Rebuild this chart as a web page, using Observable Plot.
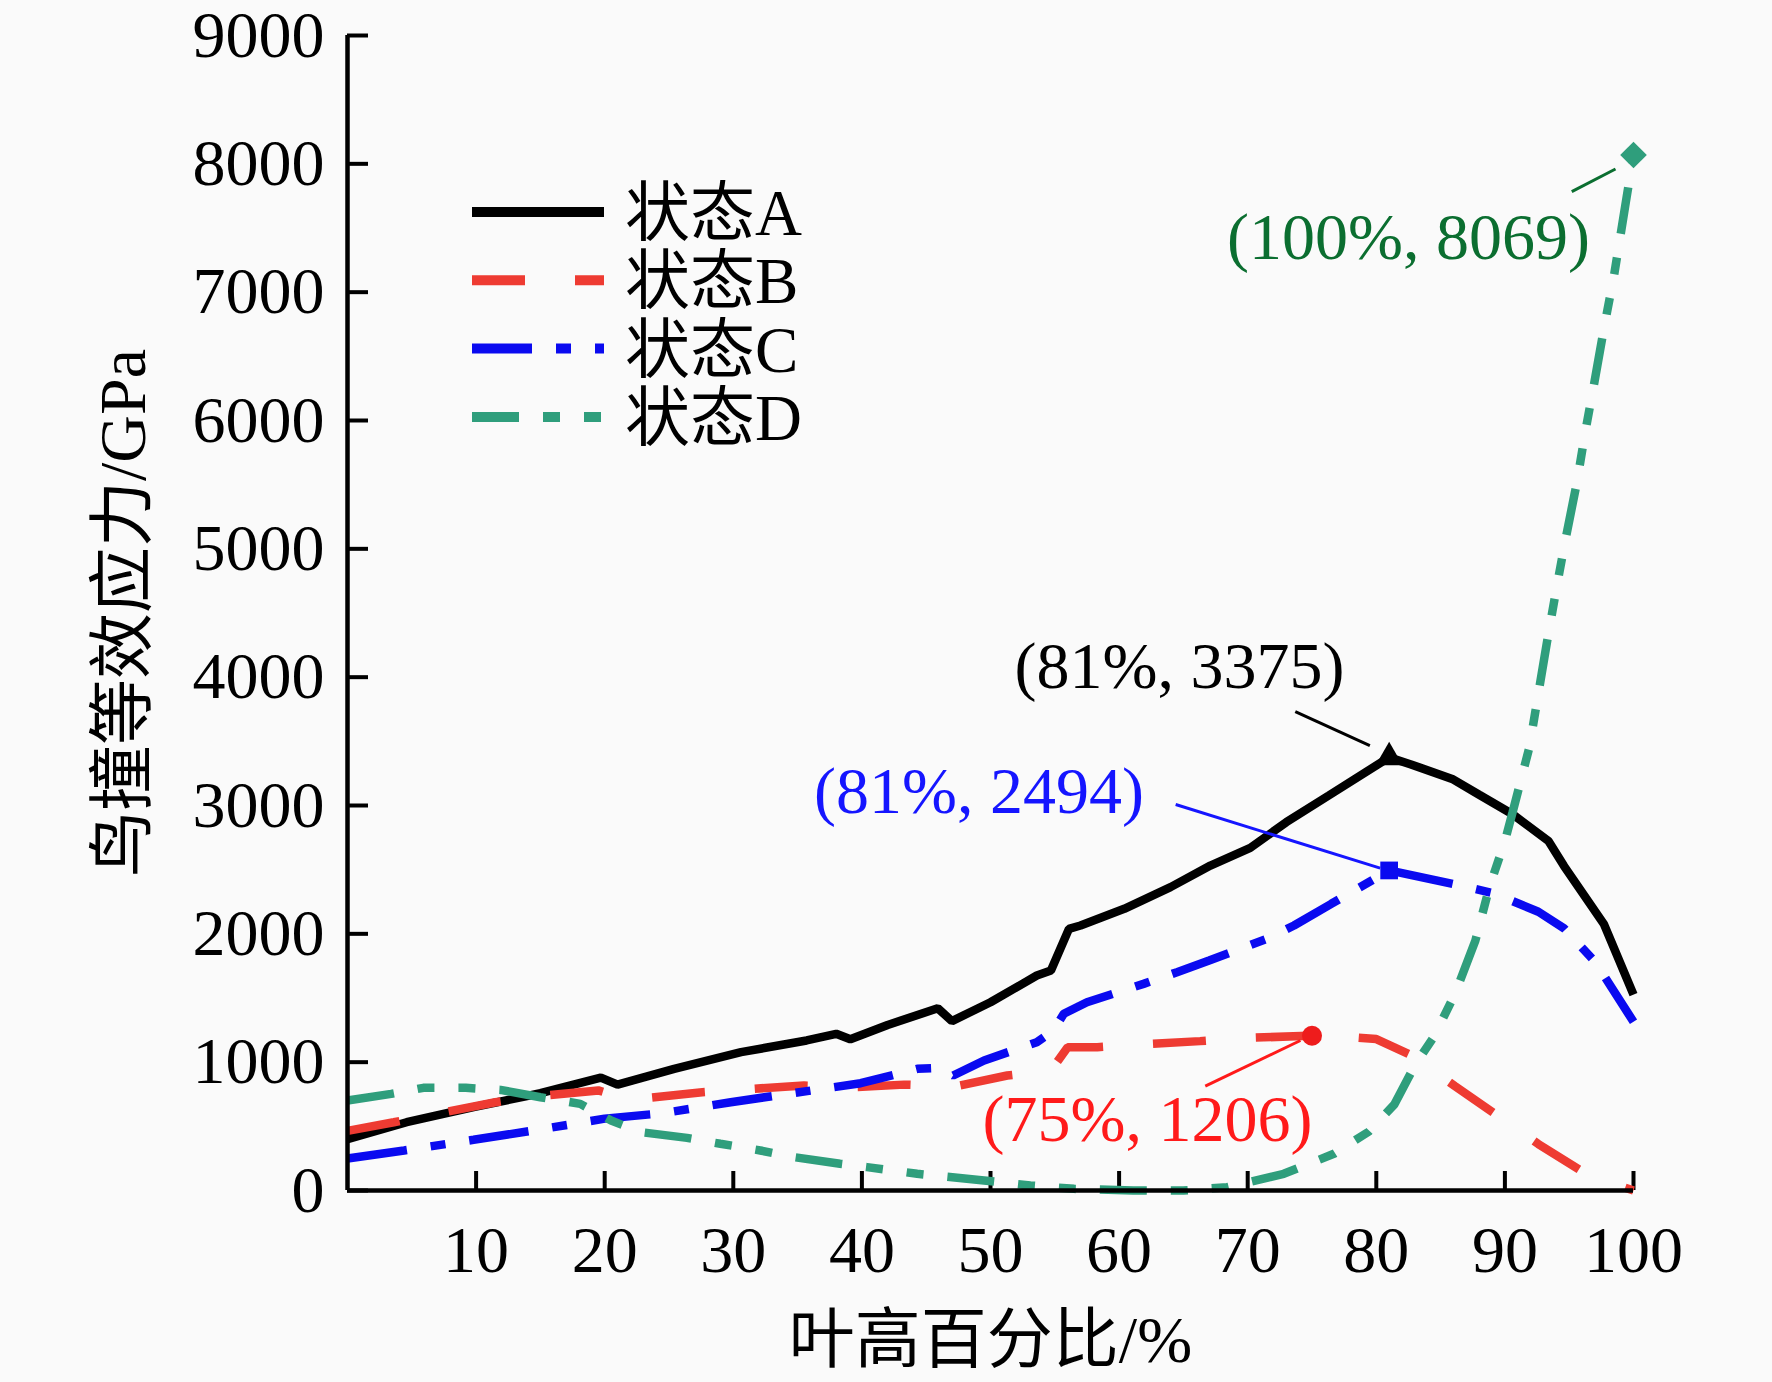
<!DOCTYPE html>
<html>
<head>
<meta charset="utf-8">
<script src="https://cdn.jsdelivr.net/npm/d3@7"></script>
<script src="https://cdn.jsdelivr.net/npm/@observablehq/plot@0.6"></script>
<style>
html, body { margin: 0; padding: 0; background: #fafafa; }
#wrap { position: relative; width: 1772px; height: 1382px; }
#wrap svg { position: absolute; left: 0; top: 0; }
</style>
</head>
<body>
<div id="wrap"></div>
<script>
// ---------- data ----------
const seriesNames = ["状态A", "状态B", "状态C", "状态D"];

const aX = [0, 4.6, 9.8, 15, 19.7, 21, 25.4, 30.6, 35.7, 38, 39.1, 42, 45.9, 47, 50, 53.6, 54.7, 56.1, 57, 60.4, 64, 67.1, 70.2, 73, 76.3, 81, 82.7, 85.9, 88, 90.6, 93.4, 94.6, 97.7, 100];
const aY = [400, 532, 649, 758, 880, 825, 948, 1078, 1169, 1221, 1178, 1290, 1420, 1320, 1467, 1675, 1714, 2039, 2065, 2195, 2364, 2532, 2670, 2870, 3078, 3375, 3320, 3207, 3084, 2932, 2722, 2528, 2075, 1526];

const bX = [0, 3.6, 7.5, 11.5, 15.3, 19.5, 21, 23.4, 27.4, 31.5, 35.5, 39.4, 43.3, 47.2, 51.3, 54.7, 56, 58.3, 62.4, 66.3, 70.2, 75, 78, 80, 82.9, 86.1, 89.5, 92.6, 96.5, 100];
const bY = [465, 532, 610, 688, 740, 780, 735, 722, 764, 792, 818, 805, 825, 810, 896, 935, 1117, 1117, 1143, 1164, 1190, 1206, 1195, 1180, 1045, 814, 578, 362, 119, 0];

const cX = [0, 4.4, 9.8, 14.5, 20, 24.5, 29.8, 34.6, 39.9, 44.3, 46.1, 47.1, 49.5, 53.6, 54.9, 55.7, 57.5, 61.9, 64.5, 67, 71.5, 73.6, 76.5, 81, 86.3, 89.1, 92.6, 94.6, 97, 100];
const cY = [250, 312, 395, 468, 560, 602, 688, 758, 836, 948, 955, 896, 1013, 1156, 1247, 1377, 1467, 1610, 1701, 1792, 1961, 2065, 2234, 2494, 2382, 2317, 2172, 2043, 1784, 1315];

const dX = [0, 3.4, 5.9, 9.2, 11.9, 15, 18.1, 20.5, 22.8, 26.4, 29, 32.1, 34.7, 38.3, 40.4, 44.3, 49.5, 53.1, 56.5, 61.1, 65, 68.4, 72.8, 76.7, 79.4, 81.4, 83, 84.5, 86.1, 87.7, 88.8, 90, 90.6, 91.9, 93.3, 94.1, 94.7, 95.6, 96.3, 96.9, 97.7, 98.5, 99.4, 100];
const dY = [701, 753, 800, 800, 784, 727, 675, 545, 455, 410, 364, 312, 260, 208, 182, 130, 78, 39, 13, 0, 0, 26, 130, 286, 458, 670, 976, 1202, 1527, 1946, 2366, 2722, 2948, 3452, 4290, 4743, 5066, 5519, 5939, 6265, 6717, 7138, 7700, 8069];

// peak markers (A, B, C, D)
const peakX = [81, 75, 81, 100];
const peakY = [3375, 1206, 2494, 8069];

// annotations (label, centre x, baseline y) and leader lines
const annText = ["(81%, 3375)", "(75%, 1206)", "(81%, 2494)", "(100%, 8069)"];
const annX = [64.7, 62.2, 49.1, 82.5];
const annY = [3919, 382, 2945, 7262];
const leadX1 = [73.7, 66.7, 64.4, 95.2];
const leadY1 = [3732, 814, 3008, 7784];
const leadX2 = [79.5, 74.1, 80.3, 98.6];
const leadY2 = [3467, 1169, 2512, 7960];

const xTicks = [10, 20, 30, 40, 50, 60, 70, 80, 90, 100];
const yTicks = [0, 1000, 2000, 3000, 4000, 5000, 6000, 7000, 8000, 9000];
const xLabel = "叶高百分比/%";
const yLabel = "鸟撞等效应力/GPa";

// ---------- styles ----------
const FONT = '"Liberation Serif", "Times New Roman", "Noto Sans CJK SC", serif';
const lineColors = ["#000000", "#ee3b32", "#0a0af0", "#2f9e7c"];
const dashes = [null, "53,50", "60,24,15,24", "47,24,17,24,17,24"];
const symbols = ["triangle", "circle", "square", "diamond2"];
const symR = [10, 10, 10, 12];
const annColors = ["#000000", "#ff1a1a", "#1515ff", "#0b6e30"];
const markerColors = ["#000000", "#ee1c1c", "#0a0af0", "#2f9e7c"];

const W = 1772, H = 1382, mL = 347, mR = 139, mT = 35, mB = 192;
const frameW = W - mL - mR, frameH = H - mT - mB;

const toRows = (xs, ys) => xs.map((x, i) => ({x, y: ys[i]}));
const seriesX = [aX, bX, cX, dX];
const seriesY = [aY, bY, cY, dY];

const lineMarks = seriesX.map((xs, k) => Plot.line(toRows(xs, seriesY[k]), {
  x: "x", y: "y",
  stroke: lineColors[k], strokeWidth: 8.5,
  strokeDasharray: dashes[k] || undefined,
  strokeLinecap: "butt", strokeLinejoin: "miter"
}));

const order = [0, 1, 2, 3];
const dotMarks = order.map(k => Plot.dot([{x: peakX[k], y: peakY[k]}], {
  x: "x", y: "y", symbol: symbols[k], r: symR[k], fill: markerColors[k], stroke: "none"
}));
const leadMarks = order.map(k => Plot.link([{x1: leadX1[k], y1: leadY1[k], x2: leadX2[k], y2: leadY2[k]}], {
  x1: "x1", y1: "y1", x2: "x2", y2: "y2", stroke: annColors[k], strokeWidth: 3
}));
const annMarks = order.map(k => Plot.text([{x: annX[k], y: annY[k], t: annText[k]}], {
  x: "x", y: "y", text: "t", fill: annColors[k], fontSize: 66,
  textAnchor: "middle", lineAnchor: "bottom", fontFamily: FONT
}));

const chart = Plot.plot({
  width: W, height: H,
  marginLeft: mL, marginRight: mR, marginTop: mT, marginBottom: mB,
  style: {background: "transparent", fontFamily: FONT, color: "#000", overflow: "visible"},
  x: {domain: [0, 100], label: null},
  y: {domain: [0, 9000], label: null},
  marks: [
    Plot.axisX({ticks: xTicks, tickSize: 0, tickPadding: 35, fontSize: 66, label: null, fontFamily: FONT, tickFormat: d => String(d)}),
    Plot.axisY({ticks: yTicks, tickSize: 0, tickPadding: 23, fontSize: 66, label: null, fontFamily: FONT, tickFormat: d => String(d)}),
    Plot.ruleX(xTicks, {x: d => d, insetTop: frameH - 19, strokeWidth: 4, stroke: "#000"}),
    Plot.ruleY(yTicks, {y: d => d, insetRight: frameW - 21, strokeWidth: 4, stroke: "#000"}),
    ...lineMarks,
    Plot.ruleX([0], {strokeWidth: 4.5, stroke: "#000"}),
    Plot.ruleY([0], {strokeWidth: 4.5, stroke: "#000"}),
    ...leadMarks,
    ...dotMarks,
    ...annMarks,
    Plot.text([xLabel], {text: d => d, frameAnchor: "bottom", dy: 150, lineAnchor: "middle", textAnchor: "middle", fontSize: 66, fontFamily: FONT}),
    Plot.text([yLabel], {text: d => d, frameAnchor: "left", rotate: -90, dx: -224, lineAnchor: "middle", textAnchor: "middle", fontSize: 66, fontFamily: FONT})
  ]
});

const wrap = document.getElementById("wrap");
wrap.appendChild(chart);

// ---------- legend (overlay) ----------
const legendX1 = 472, legendX2 = 604, legendTextX = 625, legendY0 = 212, legendStep = 68.3;
const leg = d3.select(wrap).append("svg")
  .attr("width", W).attr("height", H)
  .style("pointer-events", "none");
seriesNames.forEach((name, k) => {
  const yy = legendY0 + k * legendStep;
  const ln = leg.append("line")
    .attr("x1", legendX1).attr("x2", legendX2)
    .attr("y1", yy).attr("y2", yy)
    .attr("stroke", lineColors[k]).attr("stroke-width", 10)
    .attr("stroke-linecap", "butt");
  if (dashes[k]) ln.attr("stroke-dasharray", dashes[k]);
  leg.append("text")
    .attr("x", legendTextX).attr("y", yy + 23)
    .attr("font-family", FONT).attr("font-size", 65)
    .attr("fill", "#000")
    .text(name);
});
</script>
</body>
</html>
